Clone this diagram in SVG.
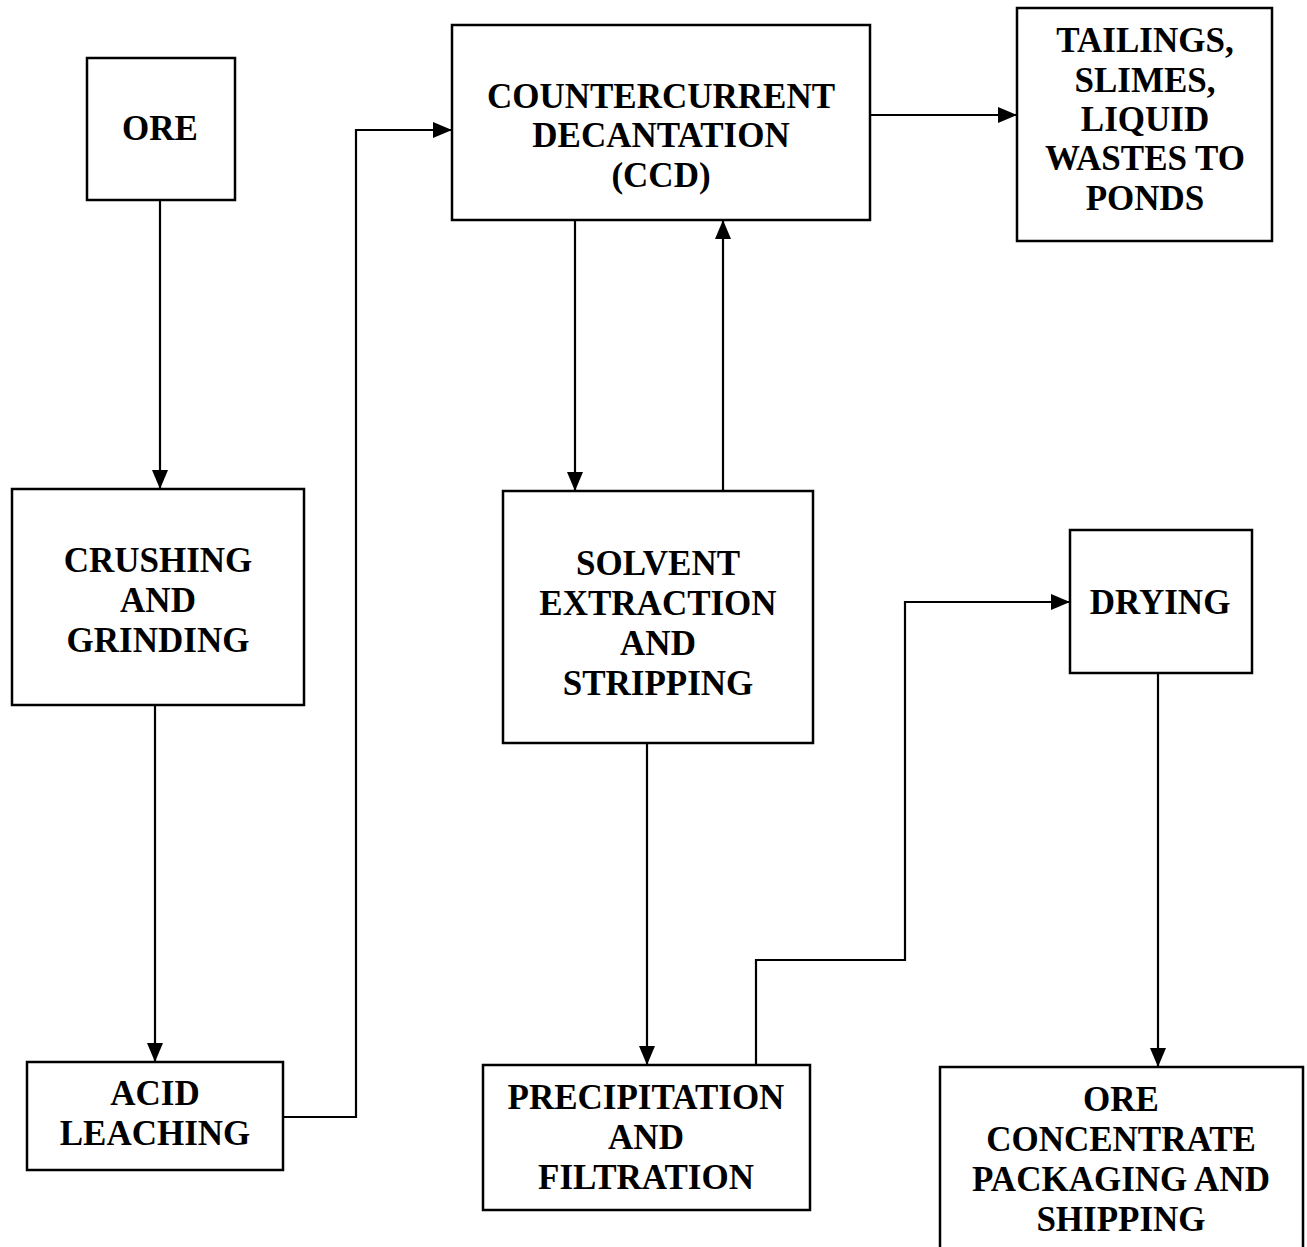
<svg xmlns="http://www.w3.org/2000/svg" width="1307" height="1247" viewBox="0 0 1307 1247">
<defs>
<style>
.box{fill:#fff;stroke:#000;stroke-width:2.5}
.lbl{font-family:"Liberation Serif","Times New Roman",serif;font-weight:bold;font-size:35px;text-anchor:middle;fill:#000}
.con{fill:none;stroke:#000;stroke-width:2.2}
</style>
<marker id="ah" markerUnits="userSpaceOnUse" markerWidth="20" markerHeight="16" refX="19" refY="8" orient="auto">
<path d="M0,0 L19,8 L0,16 z" fill="#000"/>
</marker>
</defs>
<rect width="1307" height="1247" fill="#fff"/>
<g id="connectors">
<path class="con" d="M160,200 V489" marker-end="url(#ah)"/>
<path class="con" d="M155,705 V1062" marker-end="url(#ah)"/>
<path class="con" d="M283,1117 H356 V130 H452" marker-end="url(#ah)"/>
<path class="con" d="M575,220 V491" marker-end="url(#ah)"/>
<path class="con" d="M723,491 V220" marker-end="url(#ah)"/>
<path class="con" d="M870,115 H1017" marker-end="url(#ah)"/>
<path class="con" d="M647,743 V1065" marker-end="url(#ah)"/>
<path class="con" d="M756,1065 V960 H905 V602 H1070" marker-end="url(#ah)"/>
<path class="con" d="M1158,673 V1067" marker-end="url(#ah)"/>
</g>
<g id="ore">
<rect class="box" x="87" y="58" width="148" height="142"/>
<text class="lbl" x="160" y="140">ORE</text>
</g>
<g id="ccd">
<rect class="box" x="452" y="25" width="418" height="195"/>
<text class="lbl" x="661" y="108">COUNTERCURRENT</text>
<text class="lbl" x="661" y="147">DECANTATION</text>
<text class="lbl" x="661" y="187">(CCD)</text>
</g>
<g id="tailings">
<rect class="box" x="1017" y="8" width="255" height="233"/>
<text class="lbl" x="1145" y="52">TAILINGS,</text>
<text class="lbl" x="1145" y="92">SLIMES,</text>
<text class="lbl" x="1145" y="131">LIQUID</text>
<text class="lbl" x="1145" y="170">WASTES TO</text>
<text class="lbl" x="1145" y="210">PONDS</text>
</g>
<g id="crushing">
<rect class="box" x="12" y="489" width="292" height="216"/>
<text class="lbl" x="158" y="572">CRUSHING</text>
<text class="lbl" x="158" y="612">AND</text>
<text class="lbl" x="158" y="652">GRINDING</text>
</g>
<g id="solvent">
<rect class="box" x="503" y="491" width="310" height="252"/>
<text class="lbl" x="658" y="575">SOLVENT</text>
<text class="lbl" x="658" y="615">EXTRACTION</text>
<text class="lbl" x="658" y="655">AND</text>
<text class="lbl" x="658" y="695">STRIPPING</text>
</g>
<g id="drying">
<rect class="box" x="1070" y="530" width="182" height="143"/>
<text class="lbl" x="1160" y="614">DRYING</text>
</g>
<g id="acid">
<rect class="box" x="27" y="1062" width="256" height="108"/>
<text class="lbl" x="155" y="1105">ACID</text>
<text class="lbl" x="155" y="1145">LEACHING</text>
</g>
<g id="precipitation">
<rect class="box" x="483" y="1065" width="327" height="145"/>
<text class="lbl" x="646" y="1109">PRECIPITATION</text>
<text class="lbl" x="646" y="1149">AND</text>
<text class="lbl" x="646" y="1189">FILTRATION</text>
</g>
<g id="packaging">
<rect class="box" x="940" y="1067" width="363" height="200"/>
<text class="lbl" x="1121" y="1111">ORE</text>
<text class="lbl" x="1121" y="1151">CONCENTRATE</text>
<text class="lbl" x="1121" y="1191">PACKAGING AND</text>
<text class="lbl" x="1121" y="1231">SHIPPING</text>
</g>
</svg>
